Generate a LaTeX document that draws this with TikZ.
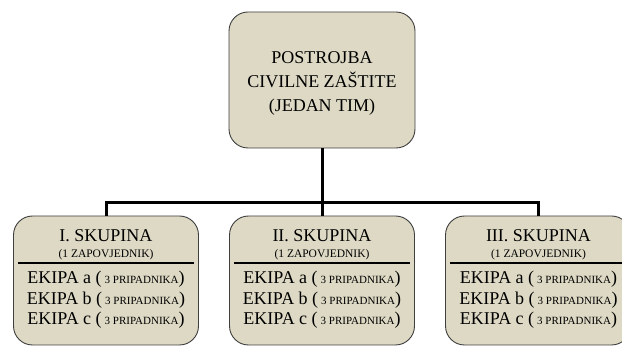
\documentclass[tikz,border=0pt]{standalone}
\usepackage{fontspec}
\setmainfont{Liberation Serif}
\usetikzlibrary{calc}
\definecolor{boxfill}{HTML}{DDD9C4}
\definecolor{boxline}{HTML}{3F3F3F}
\newcommand{\smalltxt}[1]{{\fontsize{11}{13}\selectfont #1}}
\begin{document}
\begin{tikzpicture}[x=1pt,y=1pt,
  unitbox/.style={draw=boxline, line width=0.9pt, fill=boxfill, rounded corners=19pt, inner sep=0pt},
  conn/.style={line width=3pt, black, line join=miter},
  bigtxt/.style={font=\fontsize{18}{24}\selectfont, align=center, inner sep=0pt},
  subtxt/.style={font=\fontsize{11.5}{13}\selectfont, inner sep=0pt, anchor=base},
  rowtxt/.style={font=\fontsize{18}{20}\selectfont, inner sep=0pt, anchor=base},
  ruleline/.style={line width=2.6pt, black}
]
\useasboundingbox (0,0) rectangle (622,-347);

% top unit
\node[unitbox, minimum width=186pt, minimum height=136pt] (top) at (322,-80) {};
\node[bigtxt] (toptext) at (322,-83) {POSTROJBA\\CIVILNE ZAŠTITE\\(JEDAN TIM)};

% lower units
\foreach \name/\cx/\tx/\title in {b1/106/106/I. SKUPINA, b2/322/322/II. SKUPINA, b3/538/538.5/III. SKUPINA}{
  \node[unitbox, minimum width=185pt, minimum height=129pt] (\name) at (\cx,-280.5) {};
  \node[rowtxt] (\name t) at (\tx,-242) {\title};
  \node[subtxt] (\name s) at (\tx,-258) {(1 ZAPOVJEDNIK)};
  \coordinate (\name rl) at ($(\name.west)+(5,17.5)$);
  \coordinate (\name rr) at ($(\name.east)+(-5,17.5)$);
  \draw[ruleline] (\name rl) -- (\name rr);
  \node[rowtxt] (\name a) at (\tx,-284) {EKIPA a (\,\smalltxt{3 PRIPADNIKA})};
  \node[rowtxt] (\name b) at (\tx,-304.5) {EKIPA b (\,\smalltxt{3 PRIPADNIKA})};
  \node[rowtxt] (\name c) at (\tx,-325) {EKIPA c (\,\smalltxt{3 PRIPADNIKA})};
}

% connectors
\coordinate (j) at (322,-203);
\draw[conn] (top.south) -- (b2.north);
\draw[conn] (b1.north) -- (b1.north |- j) -- (b3.north |- j) -- (b3.north);
\end{tikzpicture}
\end{document}
